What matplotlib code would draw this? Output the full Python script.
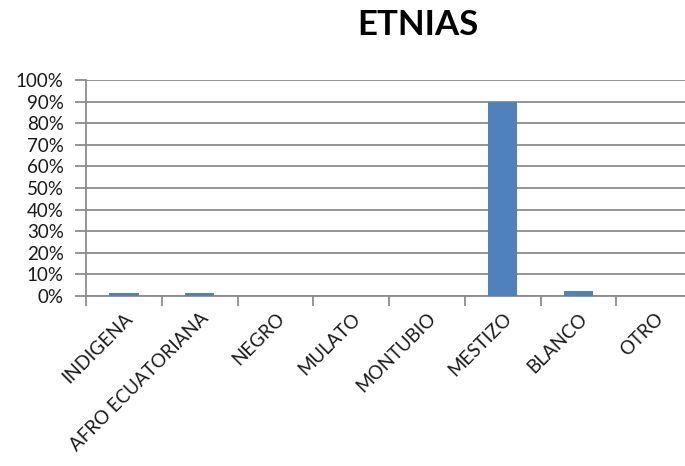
import matplotlib
matplotlib.use("Agg")
import matplotlib.pyplot as plt
from matplotlib.ticker import MultipleLocator, PercentFormatter, FixedLocator

categories = ["INDIGENA", "AFRO ECUATORIANA", "NEGRO", "MULATO", "MONTUBIO",
              "MESTIZO", "BLANCO", "OTRO"]
values = [1.2, 1.2, 0, 0, 0, 90, 2.3, 0]
title = "ETNIAS"

plt.rcParams['font.family'] = ['Lato', 'DejaVu Sans']

fig = plt.figure(figsize=(6.85, 4.66), dpi=100)
ax = fig.add_axes([86/685, 1-296/466, 606/685, 216/466])

x = list(range(len(categories)))
ax.bar(x, values, width=0.39, color="#4F81BD", zorder=3)

ax.set_xlim(-0.5, len(categories) - 0.5)
ax.set_ylim(0, 100)
ax.yaxis.set_major_locator(MultipleLocator(10))
ax.yaxis.set_major_formatter(PercentFormatter(decimals=0))
ax.grid(axis='y', color='#8c8c8c', linewidth=1.3, zorder=0)

ax.xaxis.set_major_locator(FixedLocator([i - 0.5 for i in range(len(categories) + 1)]))
ax.xaxis.set_major_formatter(plt.NullFormatter())
ax.xaxis.set_minor_locator(FixedLocator(x))
ax.set_xticklabels(categories, minor=True, rotation=45, ha='right',
                   rotation_mode='anchor', fontsize=13.5, color='#1a1a1a')
ax.tick_params(axis='x', which='minor', length=0, pad=10)
ax.tick_params(axis='x', which='major', length=7, width=1.3, color='#8c8c8c')
ax.tick_params(axis='y', length=8, width=1.3, color='#8c8c8c', labelsize=13.5,
               pad=8, labelcolor='#1a1a1a')

for s in ['top', 'right']:
    ax.spines[s].set_visible(False)
for s in ['left', 'bottom']:
    ax.spines[s].set_color('#8c8c8c')
    ax.spines[s].set_linewidth(1.3)

fig.text(418/685, 1-25/466, title, ha='center', va='center',
         fontsize=25, fontweight='bold')

fig.savefig("out.png", dpi=100)
